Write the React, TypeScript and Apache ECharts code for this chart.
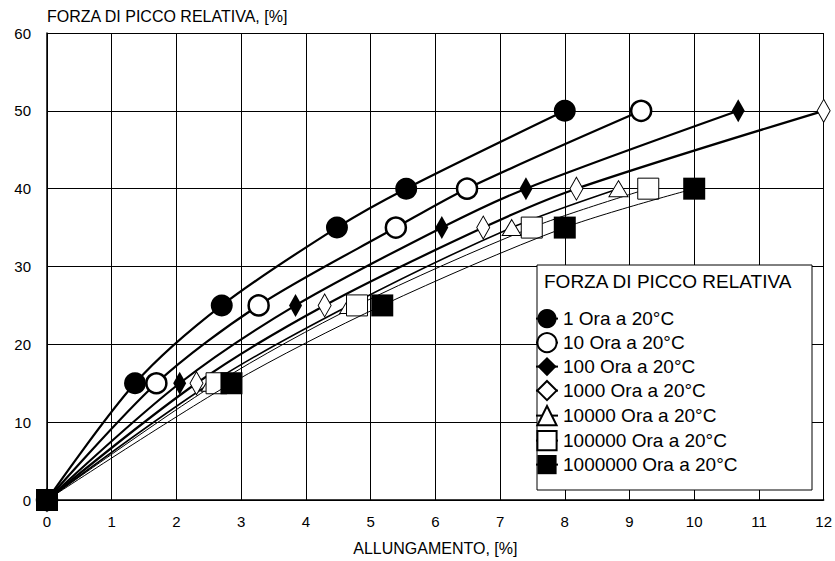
import React, { useEffect, useRef } from "react";
import * as echarts from "echarts";

const seriesNames = [
  "1 Ora a 20°C",
  "10 Ora a 20°C",
  "100 Ora a 20°C",
  "1000 Ora a 20°C",
  "10000 Ora a 20°C",
  "100000 Ora a 20°C",
  "1000000 Ora a 20°C",
];

// [allungamento %, forza %]
const s1: number[][] = [[0, 0], [1.36, 15], [2.7, 25], [4.48, 35], [5.55, 40], [8.0, 50]];
const s10: number[][] = [[0, 0], [1.69, 15], [3.27, 25], [5.39, 35], [6.49, 40], [9.18, 50]];
const s100: number[][] = [[0, 0], [2.05, 15], [3.84, 25], [6.1, 35], [7.4, 40], [10.68, 50]];
const s1000: number[][] = [[0, 0], [2.31, 15], [4.29, 25], [6.74, 35], [8.18, 40], [12.0, 50]];
const s10000: number[][] = [[0, 0], [2.53, 15], [4.67, 25], [7.18, 35], [8.83, 40]];
const s100000: number[][] = [[0, 0], [2.62, 15], [4.79, 25], [7.49, 35], [9.29, 40]];
const s1000000: number[][] = [[0, 0], [2.85, 15], [5.18, 25], [8.0, 35], [10.0, 40]];

const xTicks = [0, 1, 2, 3, 4, 5, 6, 7, 8, 9, 10, 11, 12];
const yTicks = [0, 10, 20, 30, 40, 50, 60];

const FONT = "'Liberation Sans', Arial, sans-serif";

export default function App() {
  const ref = useRef<HTMLDivElement>(null);
  useEffect(() => {
    if (!ref.current) return;
    const chart = echarts.init(ref.current, null, { renderer: "svg" });
    const mk = (
      name: string,
      data: number[][],
      symbol: string,
      size: any,
      fill: string,
      border: number,
      lw: number,
      z: number
    ) => ({
      name,
      type: "line",
      data,
      smooth: 0.3,
      symbol,
      symbolSize: size,
      showAllSymbol: true,
      color: "#000",
      lineStyle: { color: "#000", width: lw },
      itemStyle: { color: fill, borderColor: "#000", borderWidth: border, opacity: 1 },
      z,
    });
    chart.setOption({
      animation: false,
      backgroundColor: "#fff",
      textStyle: { fontFamily: FONT },
      grid: { left: 47, right: 9, top: 33, bottom: 59 },
      xAxis: {
        type: "value",
        min: xTicks[0],
        max: xTicks[xTicks.length - 1],
        interval: 1,
        name: "ALLUNGAMENTO, [%]",
        nameLocation: "middle",
        nameGap: 40,
        nameTextStyle: { color: "#000", fontSize: 16, fontFamily: FONT },
        axisLine: { lineStyle: { color: "#000", width: 1.5 } },
        axisTick: { show: true, inside: true, length: 6, lineStyle: { color: "#000" } },
        axisLabel: { color: "#000", fontSize: 15, margin: 14, fontFamily: FONT },
        splitLine: { show: true, lineStyle: { color: "#000", width: 1 } },
      },
      yAxis: {
        type: "value",
        min: yTicks[0],
        max: yTicks[yTicks.length - 1],
        interval: 10,
        name: "FORZA DI PICCO RELATIVA, [%]",
        nameLocation: "end",
        nameGap: 9,
        nameTextStyle: { color: "#000", fontSize: 16, align: "left", fontFamily: FONT },
        axisLine: { show: true, lineStyle: { color: "#000", width: 1.5 } },
        axisTick: { show: true, inside: true, length: 8, lineStyle: { color: "#000" } },
        axisLabel: { color: "#000", fontSize: 15, margin: 16, fontFamily: FONT },
        splitLine: { show: true, lineStyle: { color: "#000", width: 1 } },
      },
      graphic: [
        {
          type: "rect",
          z: 15,
          shape: { x: 537, y: 265, width: 275, height: 225 },
          style: { fill: "#fff", stroke: "#000", lineWidth: 1 },
        },
        {
          type: "text",
          z: 16,
          x: 544,
          y: 272,
          style: {
            text: "FORZA DI PICCO RELATIVA",
            fontSize: 19,
            fontFamily: FONT,
            fill: "#000",
          },
        },
      ],
      legend: {
        orient: "vertical",
        left: 535,
        top: 309,
        z: 20,
        itemWidth: 22,
        itemHeight: 24,
        itemGap: 3.8,
        padding: 0,
        data: seriesNames,
        textStyle: { color: "#000", fontSize: 19, fontFamily: FONT },
      },
      series: [
        mk(seriesNames[0], s1, "circle", 22, "#000", 0, 2.2, 3),
        mk(seriesNames[1], s10, "circle", 20, "#fff", 2.5, 2.2, 3),
        mk(seriesNames[2], s100, "diamond", [13, 23], "#000", 0, 2.2, 3),
        mk(seriesNames[3], s1000, "diamond", [13, 23], "#fff", 1, 2.2, 3),
        mk(seriesNames[4], s10000, "triangle", [19, 16], "#fff", 1, 1.6, 3),
        mk(seriesNames[5], s100000, "rect", 21, "#fff", 1, 1, 3),
        mk(seriesNames[6], s1000000, "rect", 22, "#000", 0, 1, 4),
      ],
    });
    return () => chart.dispose();
  }, []);
  return (
    <div
      ref={ref}
      style={{ position: "absolute", left: 0, top: 0, width: 835, height: 561 }}
    />
  );
}
